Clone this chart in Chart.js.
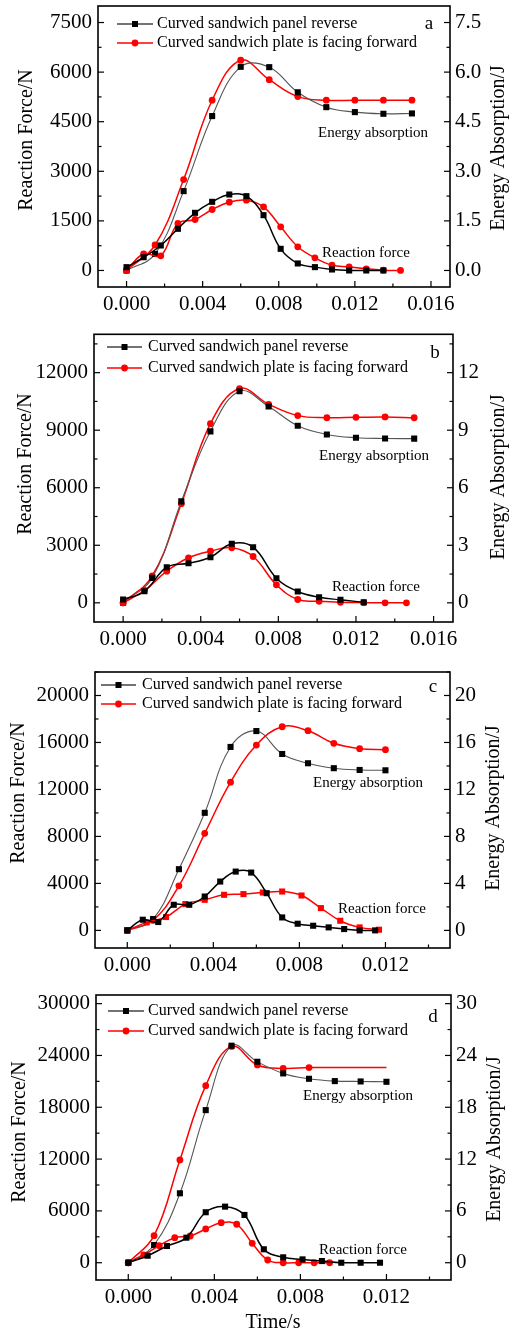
<!DOCTYPE html>
<html>
<head>
<meta charset="utf-8">
<script src="https://cdn.jsdelivr.net/npm/chart.js@4.4.0/dist/chart.umd.min.js"></script>
<style>
body { margin: 0; background: #fff; }
.panel { position: absolute; left: 0; width: 512px; }
</style>
</head>
<body>
<div class="panel" style="top:0px"><canvas id="chart-a" width="512" height="330"></canvas></div>
<div class="panel" style="top:330px"><canvas id="chart-b" width="512" height="330"></canvas></div>
<div class="panel" style="top:660px"><canvas id="chart-c" width="512" height="330"></canvas></div>
<div class="panel" style="top:990px"><canvas id="chart-d" width="512" height="342"></canvas></div>
<script>
// ---- data ----
// panel a
let aRevForceTime = [0, 0.0009, 0.0018, 0.0027, 0.0036, 0.0045, 0.0054, 0.0063, 0.0072, 0.0081, 0.009, 0.0099, 0.0108, 0.0117, 0.0126, 0.0135]
let aRevForce = [100, 400, 756, 1260, 1744, 2077, 2298, 2248, 1673, 655, 212, 101, 30, 0, 0, 0]
let aFwdForceTime = [0, 0.0009, 0.0018, 0.0027, 0.0036, 0.0045, 0.0054, 0.0063, 0.0072, 0.0081, 0.009, 0.0099, 0.0108, 0.0117, 0.0126, 0.0135, 0.0144]
let aFwdForce = [0, 505, 444, 1421, 1542, 1845, 2066, 2127, 1925, 1321, 716, 383, 161, 111, 50, 10, 0]
let aEnergyTime = [0, 0.0015, 0.003, 0.0045, 0.006, 0.0075, 0.009, 0.0105, 0.012, 0.0135, 0.015]
let aRevEnergy = [0, 0.5, 2.4, 4.67, 6.16, 6.15, 5.39, 4.94, 4.79, 4.74, 4.75]
let aFwdEnergy = [0, 0.77, 2.75, 5.15, 6.36, 5.77, 5.26, 5.15, 5.15, 5.15, 5.15]

// panel b
let bRevForceTime = [0, 0.0011, 0.00225, 0.00337, 0.0045, 0.0056, 0.0067, 0.0079, 0.009, 0.0101, 0.0112, 0.0124]
let bRevForce = [172, 600, 1857, 2066, 2379, 3078, 2900, 1283, 589, 292, 156, 30]
let bFwdForceTime = [0, 0.0011, 0.00225, 0.00337, 0.0045, 0.0056, 0.0067, 0.0079, 0.009, 0.0101, 0.0112, 0.0124, 0.0135, 0.0146]
let bFwdForce = [0, 642, 1648, 2347, 2692, 2869, 2415, 939, 172, 83, 31, 10, 0, 0]
let bEnergyTime = [0, 0.0015, 0.003, 0.0045, 0.006, 0.0075, 0.009, 0.0105, 0.012, 0.0135, 0.015]
let bRevEnergy = [0, 1.3, 5.29, 8.94, 11.03, 10.24, 9.23, 8.78, 8.61, 8.57, 8.56]
let bFwdEnergy = [0, 1.4, 5.17, 9.34, 11.17, 10.35, 9.76, 9.65, 9.67, 9.69, 9.65]

// panel c
let cRevForceTime = [0, 0.00072, 0.00144, 0.00216, 0.00288, 0.0036, 0.00432, 0.00504, 0.00576, 0.00648, 0.0072, 0.00792, 0.00864, 0.00936, 0.01008, 0.0108, 0.01152]
let cRevForce = [0, 908, 712, 2181, 2181, 2885, 4158, 5006, 4922, 3168, 1103, 566, 396, 255, 113, 0, 0]
let cFwdForceTime = [0, 0.0009, 0.0018, 0.0027, 0.0036, 0.0045, 0.0054, 0.0063, 0.0072, 0.0081, 0.009, 0.0099, 0.0108, 0.0117]
let cFwdForce = [0, 679, 1137, 2240, 2605, 3029, 3089, 3224, 3309, 2970, 1895, 820, 255, 57]
let cEnergyTime = [0, 0.0012, 0.0024, 0.0036, 0.0048, 0.006, 0.0072, 0.0084, 0.0096, 0.0108, 0.012]
let cRevEnergy = [0, 0.97, 5.21, 10.01, 15.62, 16.97, 15.02, 14.23, 13.81, 13.66, 13.63]
let cFwdEnergy = [0, 0.85, 3.79, 8.26, 12.62, 15.78, 17.34, 17.0, 15.93, 15.47, 15.39]

// panel d
let dRevForceTime = [0, 0.0009, 0.0018, 0.0027, 0.0036, 0.0045, 0.0054, 0.0063, 0.0072, 0.0081, 0.009, 0.0099, 0.0108, 0.0117]
let dRevForce = [0, 812, 1937, 2900, 5845, 6495, 5532, 1554, 626, 387, 193, 0, 0, 0]
let dFwdForceTime = [0, 0.00072, 0.00144, 0.00216, 0.00288, 0.0036, 0.00432, 0.00504, 0.00576, 0.00648, 0.0072, 0.00792, 0.00864, 0.00936]
let dFwdForce = [0, 893, 1972, 2900, 3097, 3909, 4639, 4454, 2250, 313, 0, 0, 0, 0]
let dEnergyTime = [0, 0.0012, 0.0024, 0.0036, 0.0048, 0.006, 0.0072, 0.0084, 0.0096, 0.0108, 0.012]
let dRevEnergy = [0, 2.05, 8.04, 17.67, 25.13, 23.27, 21.92, 21.3, 21.03, 20.99, 20.95]
let dFwdEnergy = [0, 3.13, 11.9, 20.5, 25.05, 22.9, 22.5, 22.6, 22.6, 22.6, 22.6]

// tick labels
let xTicksLong = [0, 0.004, 0.008, 0.012, 0.016]
let xTicksShort = [0, 0.004, 0.008, 0.012]
let aForceTicks = [0, 1500, 3000, 4500, 6000, 7500]
let aEnergyTicks = [0, 1.5, 3, 4.5, 6, 7.5]
let bForceTicks = [0, 3000, 6000, 9000, 12000]
let bEnergyTicks = [0, 3, 6, 9, 12]
let cForceTicks = [0, 4000, 8000, 12000, 16000, 20000]
let cEnergyTicks = [0, 4, 8, 12, 16, 20]
let dForceTicks = [0, 6000, 12000, 18000, 24000, 30000]
let dEnergyTicks = [0, 6, 12, 18, 24, 30]

let revLabel = "Curved sandwich panel reverse"
let fwdLabel = "Curved sandwich plate is facing forward"

// ---- drawing ----
const SERIF = "'Liberation Serif', 'Times New Roman', serif"
const RED = "rgb(255, 0, 0)"

function pts(xs, ys) {
    return xs.map((x, i) => ({ x: x, y: ys[i] }))
}

function drawMarker(ctx, style, x, y, color) {
    ctx.fillStyle = color
    if (style === 'rect') {
        ctx.fillRect(x - 3, y - 3, 6, 6)
    } else {
        ctx.beginPath()
        ctx.arc(x, y, 3.4, 0, Math.PI * 2)
        ctx.fill()
    }
}

const panelDecor = {
    id: 'panelDecor',
    afterDraw(chart) {
        const p = chart.options.plugins.panelDecor
        const ctx = chart.ctx
        const area = chart.chartArea
        ctx.save()
        ctx.strokeStyle = '#000'
        ctx.lineWidth = 1.2

        // inward ticks, major + minor
        for (const id of ['x', 'y', 'y2']) {
            const s = chart.scales[id]
            const majors = s.ticks.map(t => t.value)
            const step = majors[1] - majors[0]
            const marks = majors.map(v => [v, 6])
            for (let v = majors[0] - step / 2; v <= s.max + 1e-12; v += step) {
                if (v >= s.min) marks.push([v, 3.5])
            }
            for (let v = majors[majors.length - 1] + step; v <= s.max + 1e-12; v += step) marks.push([v, 6])
            marks.forEach(([v, len]) => {
                const px = s.getPixelForValue(v)
                ctx.beginPath()
                if (id === 'x') { ctx.moveTo(px, area.bottom); ctx.lineTo(px, area.bottom - len) }
                else if (id === 'y') { ctx.moveTo(area.left, px); ctx.lineTo(area.left + len, px) }
                else { ctx.moveTo(area.right, px); ctx.lineTo(area.right - len, px) }
                ctx.stroke()
            })
        }

        // frame
        ctx.lineWidth = 1.6
        ctx.strokeRect(area.left, area.top, area.right - area.left, area.bottom - area.top)

        ctx.fillStyle = '#000'
        ctx.textBaseline = 'middle'

        // axis titles, both read bottom to top
        ctx.font = "20px " + SERIF
        ctx.textAlign = 'center'
        ctx.save()
        ctx.translate(p.leftTitle[0], p.leftTitle[1])
        ctx.rotate(-Math.PI / 2)
        ctx.fillText("Reaction Force/N", 0, 0)
        ctx.restore()
        ctx.save()
        ctx.translate(p.rightTitle[0], p.rightTitle[1])
        ctx.rotate(-Math.PI / 2)
        ctx.fillText("Energy Absorption/J", 0, 0)
        ctx.restore()
        if (p.xTitle) ctx.fillText("Time/s", p.xTitle[0], p.xTitle[1])

        // panel letter
        ctx.font = "19px " + SERIF
        ctx.fillText(p.letter, p.letterPos[0], p.letterPos[1])

        // curve notes
        ctx.font = "15px " + SERIF
        ctx.textAlign = 'left'
        ctx.fillText("Energy absorption", p.energyNote[0], p.energyNote[1])
        ctx.fillText("Reaction force", p.forceNote[0], p.forceNote[1])

        // legend
        const lg = p.legend
        const rows = [
            { label: revLabel, line: '#444', marker: '#000', style: 'rect', y: lg.y[0] },
            { label: fwdLabel, line: RED, marker: RED, style: 'circle', y: lg.y[1] }
        ]
        ctx.font = "16px " + SERIF
        rows.forEach(r => {
            ctx.strokeStyle = r.line
            ctx.lineWidth = 1.5
            ctx.beginPath()
            ctx.moveTo(lg.x0, r.y)
            ctx.lineTo(lg.x1, r.y)
            ctx.stroke()
            drawMarker(ctx, r.style, (lg.x0 + lg.x1) / 2, r.y, r.marker)
            ctx.fillStyle = '#000'
            ctx.fillText(r.label, lg.tx, r.y)
        })
        ctx.restore()
    }
}

function makePanel(id, p) {
    const tickFont = { family: SERIF, size: 21 }
    const fixTicks = list => s => { s.ticks = list.map(v => ({ value: v })) }
    const markCount = p.fwdEnergyMarks || p.fwdEnergy.length
    const noVPad = s => { s.paddingTop = 0; s.paddingBottom = 0 }
    const noGrid = { display: false, drawTicks: false }
    return new Chart(document.getElementById(id).getContext('2d'), {
        type: 'line',
        data: {
            datasets: [
                {
                    label: revLabel, data: pts(p.revForceTime, p.revForce), yAxisID: 'y',
                    borderColor: '#000', backgroundColor: '#000', borderWidth: 1.5,
                    pointStyle: 'rect', pointRadius: 4.3, pointBorderWidth: 0, tension: 0.4
                },
                {
                    label: fwdLabel, data: pts(p.fwdForceTime, p.fwdForce), yAxisID: 'y',
                    borderColor: RED, backgroundColor: RED, borderWidth: 1.5,
                    pointStyle: p.fwdForceStyle || 'circle', pointRadius: p.fwdForceStyle === 'rect' ? 4.3 : 3.4,
                    pointBorderWidth: 0, tension: 0.4
                },
                {
                    label: revLabel, data: pts(p.energyTime, p.revEnergy), yAxisID: 'y2',
                    borderColor: '#555', backgroundColor: '#000', borderWidth: 1.1,
                    pointStyle: 'rect', pointRadius: 4.3, pointBorderWidth: 0, tension: 0.4
                },
                {
                    label: fwdLabel, data: pts(p.energyTime, p.fwdEnergy), yAxisID: 'y2',
                    borderColor: RED, backgroundColor: RED, borderWidth: 1.5,
                    pointStyle: 'circle', pointRadius: ctx => ctx.dataIndex < markCount ? 3.4 : 0,
                    pointBorderWidth: 0, tension: 0.4
                }
            ]
        },
        options: {
            responsive: false,
            animation: false,
            layout: { padding: { top: p.box.top, left: 0, right: 0, bottom: 0 } },
            plugins: {
                legend: { display: false },
                tooltip: { enabled: false },
                panelDecor: p
            },
            scales: {
                x: {
                    type: 'linear', min: -0.0015, max: p.xMax,
                    afterBuildTicks: fixTicks(p.xTicks),
                    afterFit: s => { s.height = p.h - p.box.bottom; s.paddingLeft = 0; s.paddingRight = 0 },
                    grid: noGrid, border: { display: false },
                    ticks: { color: '#000', font: tickFont, padding: 5, autoSkip: false, maxRotation: 0,
                        callback: v => v.toFixed(3) }
                },
                y: {
                    position: 'left', min: p.yMin, max: p.yMax,
                    afterBuildTicks: fixTicks(p.forceTicks),
                    afterFit: s => { s.width = p.box.left; noVPad(s) },
                    grid: noGrid, border: { display: false },
                    ticks: { color: '#000', font: tickFont, padding: 6, autoSkip: false, callback: v => String(v) }
                },
                y2: {
                    position: 'right', min: p.yMin / 1000, max: p.yMax / 1000,
                    afterBuildTicks: fixTicks(p.energyTicks),
                    afterFit: s => { s.width = 512 - p.box.right; noVPad(s) },
                    grid: noGrid, border: { display: false },
                    ticks: { color: '#000', font: tickFont, padding: 5, autoSkip: false,
                        callback: v => p.energyDecimals ? v.toFixed(p.energyDecimals) : String(v) }
                }
            }
        },
        plugins: [panelDecor]
    })
}

let chartA = makePanel("chart-a", {
    h: 330, box: { left: 98, right: 450, top: 6, bottom: 287 },
    xMax: 0.017, xTicks: xTicksLong, yMin: -500, yMax: 8000,
    forceTicks: aForceTicks, energyTicks: aEnergyTicks, energyDecimals: 1,
    revForceTime: aRevForceTime, revForce: aRevForce, fwdForceTime: aFwdForceTime, fwdForce: aFwdForce,
    energyTime: aEnergyTime, revEnergy: aRevEnergy, fwdEnergy: aFwdEnergy,
    leftTitle: [27, 140], rightTitle: [499, 148], letter: "a", letterPos: [429, 24],
    energyNote: [318, 133], forceNote: [322, 253],
    legend: { x0: 117, x1: 153, tx: 157, y: [24, 43] }
})

let chartB = makePanel("chart-b", {
    h: 330, box: { left: 94, right: 453, top: 4, bottom: 292 },
    xMax: 0.017, xTicks: xTicksLong, yMin: -1000, yMax: 14000,
    forceTicks: bForceTicks, energyTicks: bEnergyTicks,
    revForceTime: bRevForceTime, revForce: bRevForce, fwdForceTime: bFwdForceTime, fwdForce: bFwdForce,
    energyTime: bEnergyTime, revEnergy: bRevEnergy, fwdEnergy: bFwdEnergy,
    leftTitle: [26, 134], rightTitle: [499, 147], letter: "b", letterPos: [435, 23],
    energyNote: [319, 126], forceNote: [332, 257],
    legend: { x0: 107, x1: 142, tx: 148, y: [17, 38] }
})

let chartC = makePanel("chart-c", {
    h: 330, box: { left: 95, right: 450, top: 12, bottom: 288 },
    xMax: 0.015, xTicks: xTicksShort, yMin: -1500, yMax: 22000,
    forceTicks: cForceTicks, energyTicks: cEnergyTicks, fwdForceStyle: 'rect',
    revForceTime: cRevForceTime, revForce: cRevForce, fwdForceTime: cFwdForceTime, fwdForce: cFwdForce,
    energyTime: cEnergyTime, revEnergy: cRevEnergy, fwdEnergy: cFwdEnergy,
    leftTitle: [19, 133], rightTitle: [494, 148], letter: "c", letterPos: [433, 27],
    energyNote: [313, 123], forceNote: [338, 249],
    legend: { x0: 101, x1: 136, tx: 142, y: [25, 44] }
})

let chartD = makePanel("chart-d", {
    h: 342, box: { left: 96, right: 451, top: 5, bottom: 290 },
    xMax: 0.015, xTicks: xTicksShort, yMin: -2000, yMax: 31000,
    forceTicks: dForceTicks, energyTicks: dEnergyTicks, fwdEnergyMarks: 8,
    revForceTime: dRevForceTime, revForce: dRevForce, fwdForceTime: dFwdForceTime, fwdForce: dFwdForce,
    energyTime: dEnergyTime, revEnergy: dRevEnergy, fwdEnergy: dFwdEnergy,
    leftTitle: [20, 142], rightTitle: [495, 149], letter: "d", letterPos: [433, 27],
    energyNote: [303, 106], forceNote: [319, 260], xTitle: [273, 333],
    legend: { x0: 108, x1: 144, tx: 148, y: [21, 41] }
})
</script>
</body>
</html>
